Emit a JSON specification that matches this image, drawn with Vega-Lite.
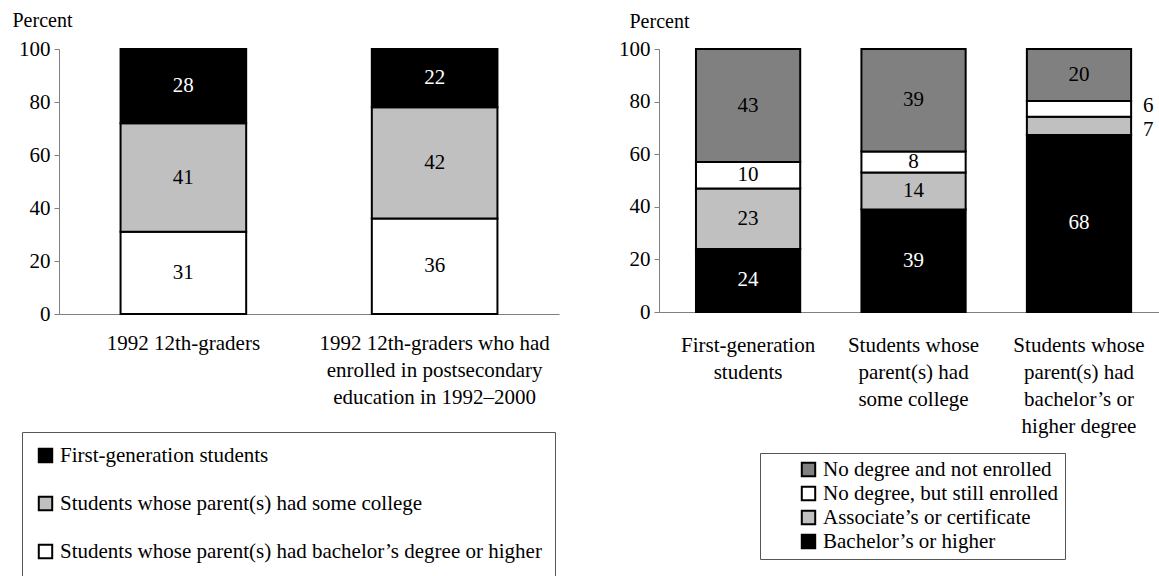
{
  "$schema": "https://vega.github.io/schema/vega-lite/v6.json",
  "padding": {"left": 12, "top": 10, "right": 0, "bottom": 0},
  "spacing": 59,
  "resolve": {"scale": {"color": "independent", "x": "independent", "y": "independent"}, "legend": {"color": "independent"}, "axis": {"x": "independent", "y": "independent"}},
  "config": {
    "font": "Times New Roman, Liberation Serif, serif",
    "view": {"stroke": null},
    "axis": {
      "labelFont": "Times New Roman, Liberation Serif, serif",
      "labelFontSize": 21,
      "labelColor": "#000000",
      "labelLimit": 1000,
      "titleFont": "Times New Roman, Liberation Serif, serif",
      "titleFontSize": 20,
      "titleFontWeight": "normal",
      "titleColor": "#000000",
      "domainColor": "#808080",
      "tickColor": "#808080",
      "grid": false
    },
    "legend": {
      "labelFont": "Times New Roman, Liberation Serif, serif",
      "labelFontSize": 21,
      "labelColor": "#000000",
      "labelLimit": 1000,
      "symbolType": "square",
      "symbolStrokeColor": "#000000",
      "symbolStrokeWidth": 2,
      "symbolSize": 180,
      "labelOffset": 4,
      "strokeColor": "#555555",
      "strokeWidth": 1
    },
    "text": {"font": "Times New Roman, Liberation Serif, serif", "fontSize": 21}
  },
  "datasets": {
    "left": [
      {"group": "1992 12th-graders", "parent": "Students whose parent(s) had bachelor’s degree or higher", "pct": 31, "rank": 1},
      {"group": "1992 12th-graders", "parent": "Students whose parent(s) had some college", "pct": 41, "rank": 2},
      {"group": "1992 12th-graders", "parent": "First-generation students", "pct": 28, "rank": 3},
      {"group": "1992 12th-graders who had enrolled in postsecondary education in 1992–2000", "parent": "Students whose parent(s) had bachelor’s degree or higher", "pct": 36, "rank": 1},
      {"group": "1992 12th-graders who had enrolled in postsecondary education in 1992–2000", "parent": "Students whose parent(s) had some college", "pct": 42, "rank": 2},
      {"group": "1992 12th-graders who had enrolled in postsecondary education in 1992–2000", "parent": "First-generation students", "pct": 22, "rank": 3}
    ],
    "right": [
      {"group": "First-generation students", "outcome": "Bachelor’s or higher", "pct": 24, "rank": 1},
      {"group": "First-generation students", "outcome": "Associate’s or certificate", "pct": 23, "rank": 2},
      {"group": "First-generation students", "outcome": "No degree, but still enrolled", "pct": 10, "rank": 3},
      {"group": "First-generation students", "outcome": "No degree and not enrolled", "pct": 43, "rank": 4},
      {"group": "Students whose parent(s) had some college", "outcome": "Bachelor’s or higher", "pct": 39, "rank": 1},
      {"group": "Students whose parent(s) had some college", "outcome": "Associate’s or certificate", "pct": 14, "rank": 2},
      {"group": "Students whose parent(s) had some college", "outcome": "No degree, but still enrolled", "pct": 8, "rank": 3},
      {"group": "Students whose parent(s) had some college", "outcome": "No degree and not enrolled", "pct": 39, "rank": 4},
      {"group": "Students whose parent(s) had bachelor’s or higher degree", "outcome": "Bachelor’s or higher", "pct": 68, "rank": 1},
      {"group": "Students whose parent(s) had bachelor’s or higher degree", "outcome": "Associate’s or certificate", "pct": 7, "rank": 2},
      {"group": "Students whose parent(s) had bachelor’s or higher degree", "outcome": "No degree, but still enrolled", "pct": 6, "rank": 3},
      {"group": "Students whose parent(s) had bachelor’s or higher degree", "outcome": "No degree and not enrolled", "pct": 20, "rank": 4}
    ]
  },
  "hconcat": [
    {
      "width": 500,
      "height": 265,
      "data": {"name": "left"},
      "encoding": {
        "x": {
          "field": "group",
          "type": "nominal",
          "sort": null,
          "scale": {"paddingInner": 0.5, "paddingOuter": 0.245},
          "axis": {
            "title": null,
            "labelAngle": 0,
            "ticks": false,
            "labelPadding": 18,
            "labelLineHeight": 27,
            "labelExpr": "datum.label == '1992 12th-graders' ? '1992 12th-graders' : ['1992 12th-graders who had', 'enrolled in postsecondary', 'education in 1992–2000']"
          }
        },
        "y": {
          "field": "pct",
          "type": "quantitative",
          "stack": "zero",
          "scale": {"domain": [0, 100]},
          "axis": {
            "title": "Percent",
            "values": [0, 20, 40, 60, 80, 100],
            "tickSize": 5,
            "labelPadding": 4,
            "titleAngle": 0,
            "titleAlign": "left",
            "titleBaseline": "alphabetic",
            "titleX": -47,
            "titleY": -23
          }
        },
        "order": {"field": "rank", "type": "quantitative"}
      },
      "layer": [
        {
          "mark": {"type": "bar", "stroke": "#000000", "strokeWidth": 2},
          "encoding": {
            "color": {
              "field": "parent",
              "type": "nominal",
              "scale": {
                "domain": ["First-generation students", "Students whose parent(s) had some college", "Students whose parent(s) had bachelor’s degree or higher"],
                "range": ["#000000", "#c0c0c0", "#ffffff"]
              },
              "legend": {
                "title": null,
                "orient": "none",
                "legendX": -37,
                "legendY": 383,
                "padding": 13,
                "rowPadding": 25
              }
            }
          }
        },
        {
          "mark": {"type": "text", "fontSize": 21},
          "encoding": {
            "y": {"field": "pct", "type": "quantitative", "stack": "zero", "bandPosition": 0.5},
            "text": {"field": "pct", "type": "quantitative"},
            "color": {
              "condition": {"test": "datum.parent == 'First-generation students'", "value": "#ffffff"},
              "value": "#000000"
            }
          }
        }
      ]
    },
    {
      "width": 500,
      "height": 263,
      "data": {"name": "right"},
      "encoding": {
        "x": {
          "field": "group",
          "type": "nominal",
          "sort": null,
          "scale": {"paddingInner": 0.37, "paddingOuter": 0.196, "align": 0.57},
          "axis": {
            "title": null,
            "labelAngle": 0,
            "ticks": false,
            "labelPadding": 22,
            "labelLineHeight": 27,
            "labelExpr": "datum.label == 'First-generation students' ? ['First-generation', 'students'] : datum.label == 'Students whose parent(s) had some college' ? ['Students whose', 'parent(s) had', 'some college'] : ['Students whose', 'parent(s) had', 'bachelor’s or', 'higher degree']"
          }
        },
        "y": {
          "field": "pct",
          "type": "quantitative",
          "stack": "normalize",
          "scale": {"domain": [0, 1]},
          "axis": {
            "title": "Percent",
            "values": [0, 0.2, 0.4, 0.6, 0.8, 1],
            "labelExpr": "round(datum.value * 100)",
            "tickSize": 5,
            "labelPadding": 4,
            "titleAngle": 0,
            "titleAlign": "left",
            "titleBaseline": "alphabetic",
            "titleX": -30,
            "titleY": -22
          }
        },
        "order": {"field": "rank", "type": "quantitative"}
      },
      "layer": [
        {
          "mark": {"type": "bar", "stroke": "#000000", "strokeWidth": 2},
          "encoding": {
            "color": {
              "field": "outcome",
              "type": "nominal",
              "scale": {
                "domain": ["No degree and not enrolled", "No degree, but still enrolled", "Associate’s or certificate", "Bachelor’s or higher"],
                "range": ["#808080", "#ffffff", "#c0c0c0", "#000000"]
              },
              "legend": {
                "title": null,
                "orient": "none",
                "legendX": 101,
                "legendY": 404,
                "padding": 6,
                "symbolOffset": 32,
                "rowPadding": 1
              }
            }
          }
        },
        {
          "mark": {"type": "text", "fontSize": 21},
          "encoding": {
            "y": {"field": "pct", "type": "quantitative", "stack": "normalize", "bandPosition": 0.5},
            "text": {"field": "pct", "type": "quantitative"},
            "color": {
              "condition": {"test": "datum.outcome == 'Bachelor’s or higher'", "value": "#ffffff"},
              "value": "#000000"
            },
            "opacity": {
              "condition": {"test": "datum.group == 'Students whose parent(s) had bachelor’s or higher degree' && (datum.outcome == 'No degree, but still enrolled' || datum.outcome == 'Associate’s or certificate')", "value": 0},
              "value": 1
            }
          }
        },
        {
          "mark": {"type": "text", "fontSize": 21, "align": "left", "dx": 64, "dy": -3},
          "encoding": {
            "y": {"field": "pct", "type": "quantitative", "stack": "normalize", "bandPosition": 0.5},
            "text": {"field": "pct", "type": "quantitative"},
            "color": {"value": "#000000"},
            "opacity": {
              "condition": {"test": "datum.group == 'Students whose parent(s) had bachelor’s or higher degree' && datum.outcome == 'No degree, but still enrolled'", "value": 1},
              "value": 0
            }
          }
        },
        {
          "mark": {"type": "text", "fontSize": 21, "align": "left", "dx": 64, "dy": 4},
          "encoding": {
            "y": {"field": "pct", "type": "quantitative", "stack": "normalize", "bandPosition": 0.5},
            "text": {"field": "pct", "type": "quantitative"},
            "color": {"value": "#000000"},
            "opacity": {
              "condition": {"test": "datum.group == 'Students whose parent(s) had bachelor’s or higher degree' && datum.outcome == 'Associate’s or certificate'", "value": 1},
              "value": 0
            }
          }
        }
      ]
    }
  ]
}
